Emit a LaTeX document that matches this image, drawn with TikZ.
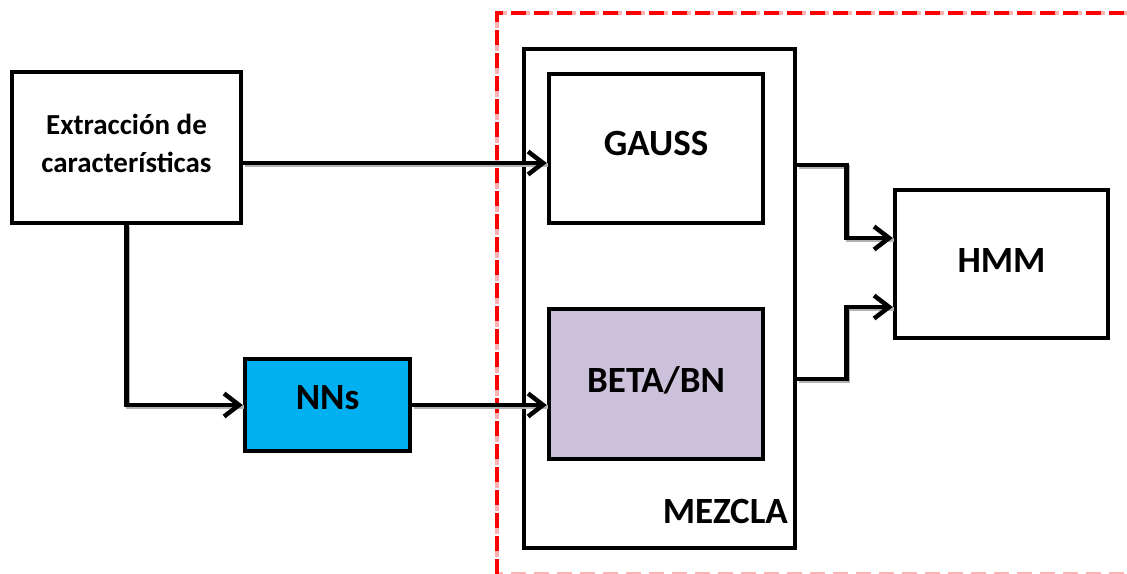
\documentclass[tikz,border=0pt]{standalone}
\usepackage{fontspec}
\setmainfont{Carlito}
\usetikzlibrary{arrows.meta}
\definecolor{nncyan}{HTML}{00B0F0}
\definecolor{betalav}{HTML}{CCC1DA}
\definecolor{dashred}{HTML}{FF0000}
\tikzset{
  blk/.style={draw=black, line width=4.5pt, rectangle, inner sep=0pt, align=center,
    font=\fontsize{37}{40}\selectfont\bfseries},
  conn/.style={line width=4.5pt, -{Straight Barb[length=15pt,width=23pt,line width=4.5pt]},
    preaction={draw=black!30, line width=4.5pt, -, transform canvas={shift={(1.5pt,-2pt)}}}},
}
\begin{document}
\begin{tikzpicture}[x=1pt,y=-1pt]
\useasboundingbox (0,0) rectangle (1127,573);
\fill[white] (0,0) rectangle (1127,573);
% red dashed region
\draw[dashred!30, line width=4pt, dash pattern=on 15pt off 8pt] (497,13) rectangle (1160,574);
\draw[dashred, line width=4pt, dash pattern=on 15pt off 8pt] (497,574) -- (497,13) -- (1160,13);
% boxes
\node[blk, minimum width=229pt, minimum height=151pt, fill=white, text depth=8pt,
  font=\fontsize{29}{38}\selectfont\bfseries] (extr) at (126.5,147.5) {Extracción de\\características};
\node[blk, minimum width=271pt, minimum height=499pt, fill=white] (mez) at (659.5,298.5) {};
\node[blk, minimum width=214pt, minimum height=149pt, fill=white, text depth=10pt] (gauss) at (656,148.5) {GAUSS};
\node[blk, minimum width=214pt, minimum height=150pt, fill=betalav, text depth=9pt] (beta) at (656,384) {BETA/BN};
\node[blk, minimum width=165pt, minimum height=92pt, fill=nncyan, text depth=16pt] (nns) at (327.5,405) {NNs};
\node[blk, minimum width=213pt, minimum height=148pt, fill=white, text depth=8pt] (hmm) at (1001.5,264) {HMM};
\node[anchor=base east, inner sep=0pt, font=\fontsize{37}{40}\selectfont\bfseries] (mezlab) at (788,523) {MEZCLA};
% connectors
\draw[conn] (extr.east |- 0,163) -- (gauss.west |- 0,163);
\draw[conn] (extr.south) |- (nns.west);
\draw[conn] (nns.east) -- (beta.west |- nns.east);
\coordinate (m1) at (mez.east |- 0,165);
\coordinate (m2) at (mez.east |- 0,379);
\coordinate (h1) at (hmm.west |- 0,238);
\coordinate (h2) at (hmm.west |- 0,307);
\draw[conn] (m1) -- ++(49,0) |- (h1);
\draw[conn] (m2) -- ++(49,0) |- (h2);
\end{tikzpicture}
\end{document}
